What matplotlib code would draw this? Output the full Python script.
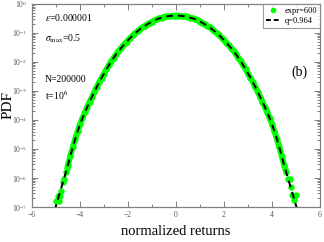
import matplotlib
matplotlib.use('Agg')
import matplotlib.pyplot as plt
from matplotlib.lines import Line2D
from matplotlib.ticker import MultipleLocator, LogLocator, NullFormatter
import numpy as np

plt.rcParams['font.family'] = ['Liberation Serif', 'DejaVu Serif']
plt.rcParams['mathtext.fontset'] = 'stix'

# fitted q-gaussian (q=0.964), log10(PDF)
fit_x = [-5.2, -5.1, -5.0, -4.9, -4.8, -4.7, -4.6, -4.5, -4.4, -4.3, -4.2, -4.1,
         -4.0, -3.9, -3.8, -3.7, -3.6, -3.5, -3.4, -3.3, -3.2, -3.1, -3.0, -2.9,
         -2.8, -2.7, -2.6, -2.5, -2.4, -2.3, -2.2, -2.1, -2.0, -1.9, -1.8, -1.7,
         -1.6, -1.5, -1.4, -1.3, -1.2, -1.1, -1.0, -0.9, -0.8, -0.7, -0.6, -0.5,
         -0.4, -0.3, -0.2, -0.1, 0.0, 0.1, 0.2, 0.3, 0.4, 0.5, 0.6, 0.7, 0.8, 0.9,
         1.0, 1.1, 1.2, 1.3, 1.4, 1.5, 1.6, 1.7, 1.8, 1.9, 2.0, 2.1, 2.2, 2.3, 2.4,
         2.5, 2.6, 2.7, 2.8, 2.9, 3.0, 3.1, 3.2, 3.3, 3.4, 3.5, 3.6, 3.7, 3.8, 3.9,
         4.0, 4.1, 4.2, 4.3, 4.4, 4.5, 4.6, 4.7, 4.8, 4.9, 5.0, 5.1, 5.2]
fit_log = [-7.52, -7.23, -6.95, -6.67, -6.39, -6.11, -5.83, -5.55, -5.23, -4.93,
           -4.65, -4.39, -4.15, -3.94, -3.74, -3.55, -3.37, -3.20, -3.024, -2.856,
           -2.696, -2.544, -2.40, -2.253, -2.114, -1.982, -1.857, -1.740, -1.632,
           -1.529, -1.431, -1.338, -1.25, -1.164, -1.083, -1.007, -0.936, -0.87,
           -0.81, -0.755, -0.703, -0.655, -0.61, -0.567, -0.528, -0.498, -0.472,
           -0.45, -0.432, -0.418, -0.408, -0.402, -0.40, -0.402, -0.408, -0.418,
           -0.432, -0.45, -0.472, -0.498, -0.528, -0.567, -0.61, -0.655, -0.703,
           -0.755, -0.81, -0.87, -0.936, -1.007, -1.083, -1.164, -1.25, -1.338,
           -1.431, -1.529, -1.632, -1.740, -1.857, -1.982, -2.114, -2.253, -2.40,
           -2.544, -2.696, -2.856, -3.024, -3.20, -3.37, -3.55, -3.74, -3.94,
           -4.15, -4.39, -4.65, -4.93, -5.23, -5.55, -5.83, -6.11, -6.39, -6.67,
           -6.95, -7.23, -7.52]

# experimental points (expr=600): body follows the fit, tails read separately
tail_x = [-5.02, -4.88, -4.93, -4.82, -4.78, -4.72, -4.66, -4.60, -4.55,
          4.55, 4.60, 4.65, 4.73, 4.80, 4.85, 4.98, 4.92]
tail_log = [-6.78, -6.78, -6.62, -6.62, -6.45, -6.15, -6.05, -5.80, -5.65,
            -5.68, -5.80, -6.05, -6.05, -6.30, -6.59, -6.59, -6.76]

fit_x = np.array(fit_x)
fit_y = 10.0 ** np.array(fit_log)
body = np.abs(fit_x) <= 4.5
tail_y = 10.0 ** np.array(tail_log)

fig = plt.figure(figsize=(3.24, 2.42), dpi=100)
ax = fig.add_axes([0.0988, 0.1446, 0.889, 0.839])

green = '#00ff00'
# points are so dense in the body that they merge into a solid band
ax.plot(fit_x[body], fit_y[body], '-o', color=green, lw=4.2, ms=3.6,
        mec=green, zorder=2)
ax.plot(tail_x, tail_y, 'o', color=green, ms=3.6, mec=green, zorder=2)
ax.plot(fit_x, fit_y, color='black', lw=1.4, dashes=(3.5, 2.5), zorder=3)

ax.set_yscale('log')
ax.set_xlim(-6, 6)
ax.set_ylim(1e-7, 1)

grey = '#808080'
for s in ax.spines.values():
    s.set_color(grey)
    s.set_linewidth(0.9)
ax.xaxis.set_major_locator(MultipleLocator(2))
ax.xaxis.set_minor_locator(MultipleLocator(1))
ax.yaxis.set_major_locator(LogLocator(base=10, numticks=10))
ax.yaxis.set_minor_locator(LogLocator(base=10, subs=np.arange(2, 10), numticks=10))
ax.yaxis.set_minor_formatter(NullFormatter())
ax.tick_params(which='both', direction='in', top=True, right=True, colors=grey,
               labelcolor='#555555', labelsize=5.5, width=0.7)
ax.tick_params(which='major', length=4)
ax.tick_params(which='minor', length=2)
ax.tick_params(axis='x', pad=3)

ax.set_xlabel('normalized returns', fontsize=10.5, labelpad=4)
ax.set_ylabel('PDF', fontsize=11, va='center')
ax.yaxis.set_label_coords(-0.084, 0.5)

ax.text(0.045, 0.931, r'$\varepsilon$=0.000001', transform=ax.transAxes,
        fontsize=7, va='center')
ax.text(0.045, 0.828, r'$\sigma_{\mathrm{max}}$=0.5', transform=ax.transAxes,
        fontsize=7, va='center')
ax.text(0.045, 0.626, 'N=200000', transform=ax.transAxes, fontsize=7, va='center')
ax.text(0.045, 0.552, r't=10$^{6}$', transform=ax.transAxes, fontsize=7, va='center')
ax.text(0.93, 0.665, '(b)', transform=ax.transAxes, fontsize=10,
        ha='center', va='center')

handles = [Line2D([], [], ls='none', marker='o', color=green, ms=3),
           Line2D([], [], color='black', lw=1.4, dashes=(2.5, 1.5))]
leg = ax.legend(handles, ['expr=600', 'q=0.964'], loc='upper right',
                bbox_to_anchor=(1.0, 1.0), fontsize=6, frameon=True,
                fancybox=False, borderaxespad=0, handlelength=1.6,
                handletextpad=0.6, borderpad=0.35, labelspacing=0.25)
leg.get_frame().set_edgecolor(grey)
leg.get_frame().set_linewidth(0.8)

fig.savefig('out.png', dpi=100)
